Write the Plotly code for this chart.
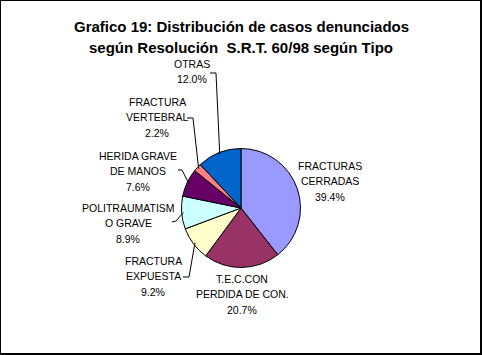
import math
import plotly.graph_objects as go

# ---- data ----
categories = ["FRACTURAS CERRADAS", "T.E.C.CON PERDIDA DE CON.", "FRACTURA EXPUESTA",
              "POLITRAUMATISMO GRAVE", "HERIDA GRAVE DE MANOS", "FRACTURA VERTEBRAL", "OTRAS"]
label_lines = [["FRACTURAS", "CERRADAS"], ["T.E.C.CON", "PERDIDA DE CON."], ["FRACTURA", "EXPUESTA"],
               ["POLITRAUMATISM", "O GRAVE"], ["HERIDA GRAVE", "DE MANOS"], ["FRACTURA", "VERTEBRAL"],
               ["OTRAS"]]
values = [39.4, 20.7, 9.2, 8.9, 7.6, 2.2, 12.0]
title_lines = ["Grafico 19: Distribución de casos denunciados",
               "según Resolución  S.R.T. 60/98 según Tipo"]

# ---- style / layout ----
W, H = 482, 355
colors = ["#9999FF", "#993366", "#FFFFCC", "#CCFFFF", "#660066", "#FF8080", "#0066CC"]
CX, CY, R = 241, 208, 59.5
LINE_H = 15.3
# label block first-line centers (px) and leader elbow paths (px); None = no leader
label_pos = [(330, 166), (242, 279), (153, 261), (128, 208), (138, 156), (157, 102), (192, 64)]
leader_elbows = [None, None, [(183, 277), (189, 277)], [(172, 222), (176, 221)],
                 [(178, 170), (182, 170)], [(187, 118), (193, 118)], [(210, 73), (216, 73)]]

def px(x):
    return x / W

def py(y):
    return 1 - y / H

fig = go.Figure(go.Pie(
    values=values, labels=categories, sort=False, direction="clockwise", rotation=0,
    marker=dict(colors=colors, line=dict(color="black", width=1)),
    textinfo="none", hoverinfo="label+percent", showlegend=False,
    domain=dict(x=[px(CX - R), px(CX + R)], y=[py(CY + R), py(CY - R)]),
))

annotations = []
for t, pos in zip(title_lines, [26, 47]):
    annotations.append(dict(x=px(241), y=py(pos), xref="paper", yref="paper", text=t,
                            showarrow=False, xanchor="center", yanchor="middle",
                            font=dict(family="Arial, Liberation Sans", size=15, color="black",
                                      weight="bold")))

total = sum(values)
shapes = []
cum = 0
lab_font = dict(family="Arial, Liberation Sans", size=10.5, color="black")
for lines, v, pos, elb in zip(label_lines, values, label_pos, leader_elbows):
    pct = v / total * 100
    for k, t in enumerate(lines + [f"{pct:.1f}%"]):
        annotations.append(dict(x=px(pos[0]), y=py(pos[1] + k * LINE_H), xref="paper", yref="paper",
                                text=t, showarrow=False, xanchor="center", yanchor="middle",
                                font=lab_font))
    mid = (cum + v / 2) / total * 2 * math.pi
    cum += v
    if elb:
        ex = CX + R * 0.97 * math.sin(mid)
        ey = CY - R * 0.97 * math.cos(mid)
        pts = elb + [(ex, ey)]
        path = "M " + " L ".join(f"{px(a):.5f},{py(b):.5f}" for a, b in pts)
        shapes.append(dict(type="path", xref="paper", yref="paper", path=path,
                           line=dict(color="black", width=1)))

# frame: thin left/top, thicker right/bottom
frame = [((0.5, 0), (0.5, H), 1), ((0, 0.5), (W, 0.5), 1),
         ((W - 1, 0), (W - 1, H), 2), ((0, H - 1), (W, H - 1), 2)]
for (a, b), (c, d), wd in frame:
    shapes.append(dict(type="line", xref="paper", yref="paper", x0=px(a), y0=py(b),
                       x1=px(c), y1=py(d), line=dict(color="black", width=wd)))

fig.update_layout(width=W, height=H, margin=dict(l=0, r=0, t=0, b=0),
                  paper_bgcolor="white", plot_bgcolor="white",
                  annotations=annotations, shapes=shapes)
fig.write_html("out.html", config={"displayModeBar": False},
               post_script="document.body.style.margin='0';document.body.style.overflow='hidden';")
